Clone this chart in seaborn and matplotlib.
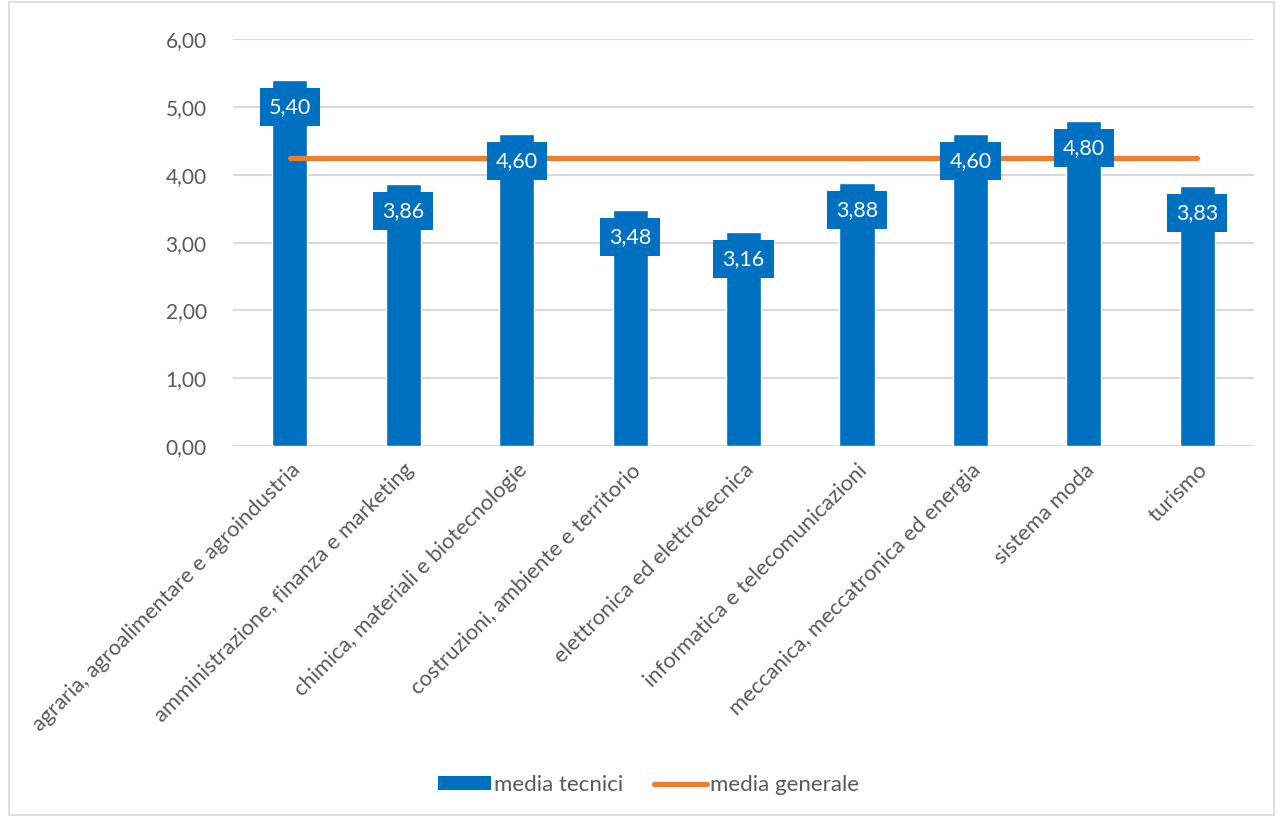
import matplotlib
matplotlib.use("Agg")
import matplotlib.pyplot as plt
import seaborn as sns
import pandas as pd
from matplotlib.patches import Patch, Rectangle
from matplotlib.lines import Line2D

categories = [
    "agraria, agroalimentare e agroindustria",
    "amministrazione, finanza e marketing",
    "chimica, materiali e biotecnologie",
    "costruzioni, ambiente e territorio",
    "elettronica ed elettrotecnica",
    "informatica e telecomunicazioni",
    "meccanica, meccatronica ed energia",
    "sistema moda",
    "turismo",
]
media_tecnici = [5.40, 3.86, 4.60, 3.48, 3.16, 3.88, 4.60, 4.80, 3.83]
media_generale = [4.25] * len(categories)
yticks = [0, 1, 2, 3, 4, 5, 6]

BLUE = "#0070C0"
ORANGE = "#ED7D31"
TEXT = "#595959"
GRID = "#D9D9D9"

sns.set_theme(style="white")
plt.rcParams["font.family"] = ["Lato", "DejaVu Sans"]

df = pd.DataFrame({"categoria": categories, "valore": media_tecnici})

fig = plt.figure(figsize=(12.77, 8.16), dpi=100)
ax = fig.add_axes([0.1825, 0.4534, 0.7995, 0.4986])

sns.barplot(data=df, x="categoria", y="valore", color=BLUE, width=0.31,
            saturation=1, ax=ax, zorder=2)

ax.plot(range(len(categories)), media_generale, color=ORANGE, lw=3.8,
        solid_capstyle="round", zorder=3)

# value labels in blue boxes just below each bar top
for i, v in enumerate(media_tecnici):
    ax.text(i, v - 0.40, f"{v:.2f}".replace(".", ","), ha="center", va="center",
            color="white", fontsize=15.5, zorder=4,
            bbox=dict(boxstyle="square,pad=0.42", fc=BLUE, ec="none"))

ax.set_ylim(0, 6)
ax.set_xlim(-0.5, len(categories) - 0.5)
ax.set_yticks(yticks)
ax.set_yticklabels([f"{t:.2f}".replace(".", ",") for t in yticks],
                   fontsize=15, color=TEXT)
ax.tick_params(axis="y", pad=19, length=0)
ax.tick_params(axis="x", pad=10, length=0)
ax.set_xticks(range(len(categories)))
ax.set_xticklabels(categories, rotation=45, ha="right", rotation_mode="anchor",
                   fontsize=15.8, color=TEXT)
ax.set_xlabel("")
ax.set_ylabel("")
ax.grid(axis="y", color=GRID, lw=1.5, zorder=0)
ax.set_axisbelow(True)
for s in ax.spines.values():
    s.set_visible(False)

handles = [
    Patch(facecolor=BLUE, edgecolor="none", label="media tecnici"),
    Line2D([0], [0], color=ORANGE, lw=3.8, solid_capstyle="round", label="media generale"),
]
fig.legend(handles=handles, loc="center", bbox_to_anchor=(0.508, 0.038), ncol=2,
           frameon=False, fontsize=16, labelcolor=TEXT, handlelength=2.35,
           handleheight=0.55, handletextpad=0.15, columnspacing=1.4)

fig.patches.append(Rectangle((0.007, 0.001), 0.991, 0.997, transform=fig.transFigure,
                             fill=False, ec="#D9D9D9", lw=1.2))

fig.savefig("out.png", dpi=100)
